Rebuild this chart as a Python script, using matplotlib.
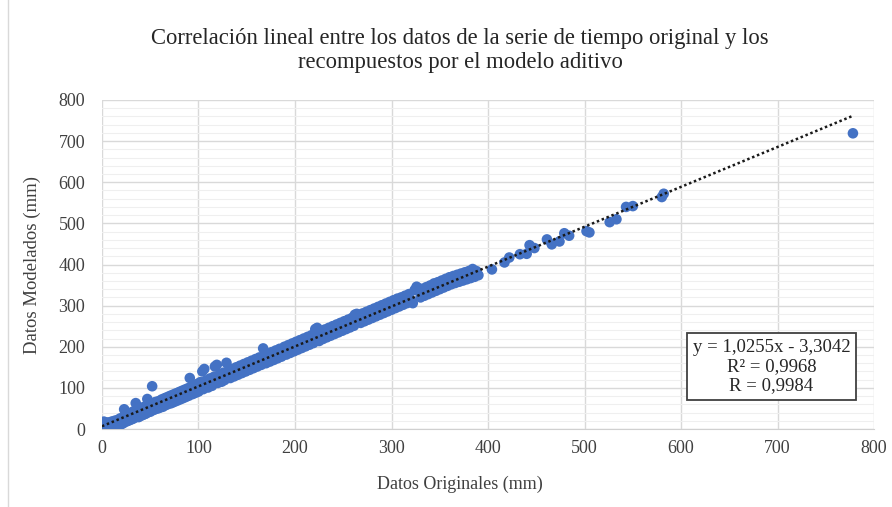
import matplotlib.pyplot as plt
import numpy as np

# Datos (mm)
originales = [
    0, 0, 1, 1, 2, 2, 3, 3, 4, 5, 5, 6, 7, 8, 9, 10, 11, 12, 13, 14, 15, 16, 17, 18, 19,
    20, 21, 22, 23, 24, 25, 26, 27, 28, 29, 30, 31, 32, 33, 34, 35, 36, 37, 38, 39, 40,
    41, 42, 43, 44, 45, 46, 47, 48, 49, 50, 52, 51, 53, 54, 55, 56, 58, 59, 60, 62, 63,
    65, 66, 68, 69, 71, 72, 74, 75, 77, 78, 80, 81, 83, 84, 86, 87, 89, 91, 90, 92, 94,
    95, 97, 99, 100, 102, 104, 106, 105, 108, 110, 112, 114, 116, 117, 119, 120, 122,
    124, 126, 127, 129, 131, 133, 135, 137, 139, 141, 143, 145, 147, 149, 151, 153, 155,
    157, 159, 161, 163, 165, 167, 168, 170, 172, 174, 176, 178, 180, 182, 184, 186, 187,
    189, 191, 193, 195, 197, 199, 201, 203, 205, 207, 209, 211, 213, 215, 217, 219, 221,
    223, 222, 225, 227, 229, 231, 233, 235, 237, 239, 241, 243, 245, 247, 249, 251, 253,
    255, 257, 259, 262, 264, 261, 266, 268, 270, 272, 274, 276, 278, 280, 282, 284, 286,
    288, 290, 292, 294, 296, 298, 300, 302, 304, 306, 308, 310, 312, 314, 316, 318, 320,
    322, 324, 326, 328, 330, 332, 334, 336, 338, 340, 342, 344, 346, 348, 350, 352, 354,
    356, 358, 360, 362, 364, 366, 368, 370, 372, 374, 376, 378, 380, 382, 384, 386, 388,
    390, 404, 417, 422, 433, 440, 443, 448, 461, 466, 474, 479, 484, 502, 505, 526, 533,
    543, 550, 580, 582, 778,
]
modelados = [
    2, 12, 16, 4, 0, 18, 8, 2, 13, 0, 7, 16, 3, 12, 1, 18, 6, 3, 20, 9, 6, 22, 10, 9, 26,
    12, 25, 14, 48, 44, 18, 34, 20, 36, 22, 38, 24, 42, 26, 44, 63, 30, 46, 29, 48, 32,
    51, 34, 53, 36, 55, 38, 73, 56, 58, 42, 104, 61, 46, 64, 48, 66, 50, 68, 52, 72, 54,
    75, 58, 78, 61, 81, 63, 84, 66, 87, 69, 90, 72, 93, 75, 96, 78, 99, 124, 81, 102, 85,
    105, 88, 110, 91, 114, 140, 146, 97, 118, 101, 123, 105, 127, 152, 156, 112, 133,
    115, 137, 119, 161, 142, 124, 146, 128, 150, 132, 154, 136, 158, 140, 162, 144, 166,
    148, 170, 152, 174, 156, 196, 179, 160, 183, 164, 187, 168, 191, 172, 195, 176, 186,
    200, 181, 204, 185, 208, 189, 212, 193, 216, 197, 220, 201, 224, 205, 228, 209, 243,
    246, 233, 214, 238, 219, 242, 223, 246, 227, 250, 231, 254, 235, 258, 239, 262, 243,
    266, 247, 270, 278, 280, 251, 277, 258, 281, 262, 285, 266, 289, 270, 293, 274, 297,
    278, 301, 282, 305, 286, 309, 290, 313, 294, 317, 298, 320, 302, 324, 306, 328, 312,
    306, 338, 346, 342, 320, 341, 324, 345, 328, 349, 332, 354, 336, 357, 340, 361, 344,
    365, 348, 369, 352, 372, 355, 375, 358, 378, 361, 381, 364, 384, 367, 389, 370, 384,
    374, 388, 405, 417, 425, 426, 447, 440, 461, 449, 456, 476, 470, 481, 478, 503, 510,
    540, 542, 564, 572, 719,
]

ecuacion = "y = 1,0255x - 3,3042"
r2_texto = "R² = 0,9968"
r_texto = "R = 0,9984"
titulo = ("Correlación lineal entre los datos de la serie de tiempo original y los\n"
          "recompuestos por el modelo aditivo")


def main() -> None:
    plt.rcParams["font.family"] = ["Liberation Serif", "DejaVu Serif"]
    x = np.array(originales, dtype=float)
    y = np.array(modelados, dtype=float)

    fig = plt.figure(figsize=(8.92, 5.07), dpi=100)
    ax = fig.add_axes([0.1143, 0.1538, 0.8657, 0.649])

    ax.scatter(x, y, s=58, color="#4472C4", edgecolors="none", zorder=3)

    pendiente, corte = np.polyfit(x, y, 1)
    xs = np.array([0.0, x.max()])
    ax.plot(xs, pendiente * xs + corte, color="#1a1a1a", lw=1.8,
            linestyle=(0, (1, 1.1)), zorder=4)

    ax.set_xlim(0, 800)
    ax.set_ylim(0, 800)
    ax.set_xticks(np.arange(0, 801, 100))
    ax.set_yticks(np.arange(0, 801, 100))
    ax.set_yticks(np.arange(0, 801, 20), minor=True)
    ax.grid(which="major", color="#d9d9d9", lw=1.0, zorder=0)
    ax.grid(which="minor", axis="y", color="#efefef", lw=0.8, zorder=0)
    ax.tick_params(which="both", length=0, labelsize=13, colors="#404040")
    ax.tick_params(axis="x", pad=8)
    ax.tick_params(axis="y", pad=12)
    for lado in ("top", "right", "left"):
        ax.spines[lado].set_visible(False)
    ax.spines["bottom"].set_color("#d0d0d0")
    ax.set_axisbelow(True)

    fig.text(0.516, 0.9, titulo, ha="center", va="center", fontsize=16.3,
             color="#262626", linespacing=1.22)
    fig.text(0.516, 0.045, "Datos Originales (mm)", ha="center", va="center",
             fontsize=13, color="#404040")
    fig.text(0.036, 0.478, "Datos Modelados (mm)", ha="center", va="center",
             rotation=90, fontsize=13.5, color="#404040")

    ax.text(0.867, 0.19, f"{ecuacion}\n{r2_texto}\n{r_texto}", transform=ax.transAxes,
            ha="center", va="center", fontsize=13.5, color="#262626", linespacing=1.15,
            zorder=6,
            bbox=dict(boxstyle="square,pad=0.3", facecolor="white",
                      edgecolor="#404040", lw=1.3))

    fig.add_artist(plt.Line2D([0.009, 0.009], [0.0, 1.0], transform=fig.transFigure,
                              color="#d9d9d9", lw=1.0))

    fig.savefig("out.png", dpi=100)
    plt.close(fig)


if __name__ == "__main__":
    main()
